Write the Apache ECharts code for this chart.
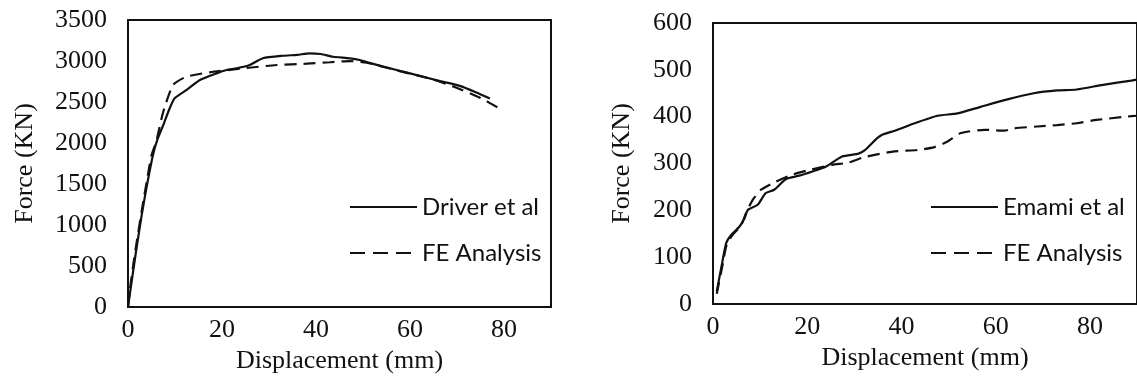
<!DOCTYPE html>
<html>
<head>
<meta charset="utf-8">
<script src="https://cdn.jsdelivr.net/npm/echarts@6/dist/echarts.min.js"></script>
<style>
  html, body { margin: 0; padding: 0; background: #fff; }
  #chart { width: 1137px; height: 379px; }
</style>
</head>
<body>
<div id="chart"></div>
<script>
// left panel: Driver et al vs FE, [displacement mm, force kN]
const driverData = [
    [0, 0], [0.5, 200], [1.8, 713], [3.0, 1150], [3.9, 1445], [5.3, 1852], [6.3, 2050],
    [7.5, 2218], [8.7, 2400], [9.9, 2544], [12.4, 2645], [15.3, 2768], [18.8, 2849],
    [21.0, 2890], [23.1, 2910], [25.9, 2951], [28.7, 3033], [33.0, 3064], [36.0, 3075],
    [38.7, 3094], [41.0, 3085], [43.6, 3052], [47.2, 3033], [49.3, 3012], [54.3, 2931],
    [60.0, 2849], [66.4, 2754], [70.6, 2697], [74.0, 2620], [77.0, 2543]
];
const feLeftData = [
    [0, 0], [0.6, 300], [1.6, 700], [3.0, 1200], [4.2, 1600], [5.0, 1850], [6.0, 2014],
    [7.5, 2381], [9.6, 2707], [12.4, 2808], [17.4, 2862], [24.5, 2910], [31.6, 2951],
    [38.0, 2967], [43.0, 2985], [47.2, 2999], [50.8, 2979], [57.8, 2877], [64.9, 2775],
    [69.9, 2674], [74.9, 2553], [79.1, 2418]
];

// right panel: Emami et al vs FE
const emamiData = [
    [0.8, 27], [1.8, 80], [2.8, 130], [3.9, 148], [5.6, 165], [6.7, 183], [7.4, 201],
    [9.5, 212], [11.2, 237], [13.0, 244], [15.5, 267], [18.3, 274], [21.1, 283],
    [23.9, 293], [27.4, 315], [30.9, 321], [32.3, 329], [34.4, 350], [35.8, 361],
    [38.6, 370], [42.8, 386], [47.7, 402], [51.9, 407], [56.8, 421], [62.5, 437],
    [68.1, 450], [73.0, 456], [77.2, 458], [82.8, 468], [88.8, 477], [90.0, 479]
];
const feRightData = [
    [0.8, 22], [2.1, 87], [2.8, 123], [3.9, 144], [6.0, 169], [7.0, 194], [8.4, 222],
    [10.2, 244], [13.3, 261], [16.8, 276], [20.4, 286], [25.3, 297], [28.8, 302],
    [31.9, 313], [37.9, 325], [43.5, 329], [47.0, 335], [49.8, 347], [52.6, 365],
    [57.6, 372], [61.8, 370], [63.9, 375], [68.8, 379], [73.0, 382], [77.2, 386],
    [81.4, 393], [87.7, 400], [90.0, 402]
];

const xTitle = 'Displacement (mm)';
const yTitle = 'Force (KN)';
const leftNames = ['Driver et al', 'FE Analysis'];
const rightNames = ['Emami et al', 'FE Analysis '];

const serif = '"Liberation Serif", "Times New Roman", serif';
const sans = 'Lato, "Open Sans", sans-serif';
const ink = '#111';

function xAxisFor(gridIndex) {
    return {
        gridIndex: gridIndex,
        type: 'value',
        min: 0, max: 90, interval: 20,
        name: xTitle,
        nameLocation: 'middle',
        nameGap: 39,
        nameTextStyle: { fontFamily: serif, fontSize: 26, color: ink },
        axisLine: { show: true, lineStyle: { color: ink, width: 2 } },
        axisTick: { show: false },
        splitLine: { show: false },
        axisLabel: {
            showMaxLabel: false, margin: 10, fontFamily: serif, fontSize: 26, color: ink,
            formatter: v => String(v)
        }
    };
}

function yAxisFor(gridIndex, max, interval, gap) {
    return {
        gridIndex: gridIndex,
        type: 'value',
        min: 0, max: max, interval: interval,
        name: yTitle,
        nameLocation: 'middle',
        nameGap: gap,
        nameTextStyle: { fontFamily: serif, fontSize: 26, color: ink },
        axisLine: { show: true, lineStyle: { color: ink, width: 2 } },
        axisTick: { show: false },
        splitLine: { show: false },
        axisLabel: {
            margin: 21, fontFamily: serif, fontSize: 26, color: ink,
            formatter: v => String(v)
        }
    };
}

function lineSeries(name, data, idx, dashed) {
    return {
        name: name,
        type: 'line',
        xAxisIndex: idx,
        yAxisIndex: idx,
        data: data,
        symbol: 'none',
        smooth: 0.2,
        lineStyle: { color: ink, width: 2.2, type: dashed ? [12, 7] : 'solid' },
        itemStyle: { color: ink }
    };
}

function legendFor(names, left) {
    return {
        data: [
            { name: names[0], itemStyle: { opacity: 0 }, lineStyle: { type: 'solid' } },
            { name: names[1], itemStyle: { opacity: 0 }, lineStyle: { type: [15, 8] } }
        ],
        orient: 'vertical',
        left: left,
        top: 195,
        padding: 0,
        itemWidth: 67,
        itemHeight: 14,
        itemGap: 22,
        textStyle: { fontFamily: sans, fontSize: 24, color: ink }
    };
}

const chart = echarts.init(document.getElementById('chart'));
chart.setOption({
    animation: false,
    backgroundColor: '#fff',
    grid: [
        { left: 128, top: 20, width: 423, height: 287, show: true, borderColor: ink, borderWidth: 2 },
        { left: 713, top: 23, width: 428, height: 281, show: true, borderColor: ink, borderWidth: 2 }
    ],
    xAxis: [xAxisFor(0), xAxisFor(1)],
    yAxis: [yAxisFor(0, 3500, 500, 90), yAxisFor(1, 600, 100, 78)],
    legend: [legendFor(leftNames, 349), legendFor(rightNames, 930)],
    series: [
        lineSeries(leftNames[0], driverData, 0, false),
        lineSeries(leftNames[1], feLeftData, 0, true),
        lineSeries(rightNames[0], emamiData, 1, false),
        lineSeries(rightNames[1], feRightData, 1, true)
    ]
});
</script>
</body>
</html>
